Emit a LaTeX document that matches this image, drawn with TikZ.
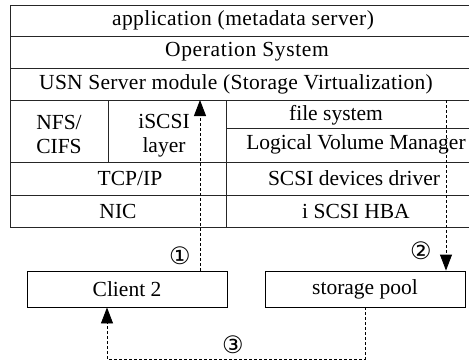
\documentclass[tikz,border=0pt]{standalone}
\usepackage{fontspec}
\setmainfont{Liberation Serif}
\newfontfamily\circfont{DejaVu Sans}
\usetikzlibrary{arrows.meta}

\begin{document}
\begin{tikzpicture}[
    x=1pt, y=-1pt,
    grid line/.style={draw=black!85, line width=0.9pt},
    cell text/.style={font=\fontsize{21.5}{24}\selectfont, align=center, inner sep=0pt},
    spaced/.style={font=\fontsize{21.5}{24}\selectfont\addfontfeature{LetterSpace=#1}},
    box node/.style={draw=black, line width=0.9pt, minimum width=200pt, minimum height=36pt,
        font=\fontsize{21.5}{24}\selectfont},
    flow line/.style={densely dashed, line width=0.9pt, -{Triangle[width=12pt,length=16pt]}},
    step label/.style={font=\circfont\fontsize{24}{24}\selectfont, inner sep=0pt}
]
    \useasboundingbox (0,0) rectangle (469,364);

    % Layer stack
    \draw[grid line] (10,5) -- (10,227);
    \foreach \y in {5,36,68,100,162,195,227}
        \draw[grid line] (10,\y) -- (469,\y);
    \draw[grid line] (108,100) -- (108,162);
    \draw[grid line] (226,100) -- (226,227);
    \draw[grid line] (226,128) -- (469,128);

    % Layer texts
    \node[cell text, spaced=2] (app) at (243,20) {application (metadata server)};
    \node[cell text, spaced=3] (os)  at (247,52) {Operation System};
    \node[cell text, spaced=1.3] (usn) at (236,84) {USN Server module (Storage Virtualization)};
    \node[cell text] (nfs) at (59,134) {NFS/\\CIFS};
    \node[cell text] (iscsi) at (164,136) {iSCSI\\layer};
    \node[cell text] (fs)  at (336,115) {file system};
    \node[cell text] (lvm) at (356,144) {Logical Volume Manager};
    \node[cell text] (tcp) at (130,178) {TCP/IP};
    \node[cell text] (nic) at (118,211) {NIC};
    \node[cell text] (scsi) at (354,178) {SCSI devices driver};
    \node[cell text] (hba) at (356,211) {i SCSI HBA};

    % Boxes
    \node[box node] (client) at (127,289) {Client 2};
    \node[box node] (pool)   at (365,289) {storage pool};

    % Turning points
    \coordinate (usn in)  at (200,100);
    \coordinate (usn out) at (446,100);
    \coordinate (corner)  at (107,359);

    % Edges with labels
    \draw[flow line] (client.north -| usn in) -- (usn in);
    \draw[flow line] (usn out) -- (pool.north -| usn out);
    \draw[flow line] (pool.south) |- (corner) -- (client.south -| corner);

    \node[step label] (one)   at (180,256) {①};
    \node[step label] (two)   at (421,251) {②};
    \node[step label] (three) at (233,345) {③};

\end{tikzpicture}
\end{document}
